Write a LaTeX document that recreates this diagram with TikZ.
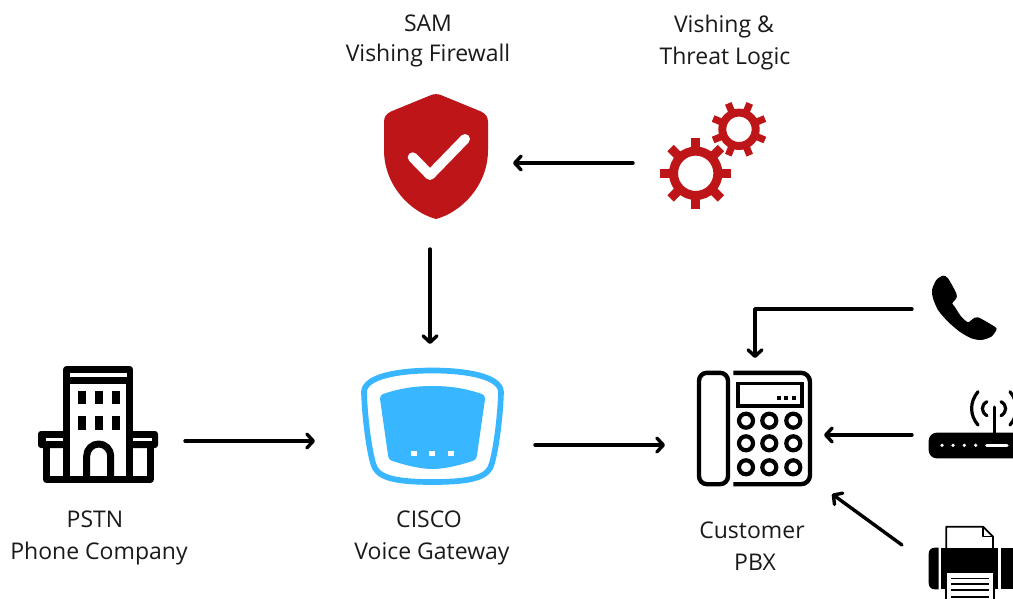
\documentclass[tikz,border=0pt]{standalone}
\usepackage{fontspec}
\setmainfont{Open Sans}
\usetikzlibrary{arrows.meta}
\definecolor{samred}{HTML}{BD1518}
\definecolor{ciscoblue}{HTML}{38B6FF}
\definecolor{labelgrey}{HTML}{1A1A1A}
\tikzset{
  flow/.style={draw=black,line width=3.4pt,line cap=round,line join=round,-{Straight Barb[length=6.5pt,width=14pt,line width=3.4pt,round]}},
  port/.style={inner sep=0pt,minimum size=0pt,outer sep=0pt},
  caption/.style={inner sep=0pt,text=labelgrey,font=\fontsize{23}{28}\selectfont,anchor=center},
  blk/.style={line width=7pt,line join=round,draw=black},
  tel/.style={line width=4.4pt,line join=round,draw=black},
  wave/.style={line width=3.2pt,line cap=round},
}
\begin{document}
\begin{tikzpicture}[x=1pt,y=-1pt]
\useasboundingbox (0,0) rectangle (1013,599);
\clip (0,0) rectangle (1013,599);
\fill[white] (0,0) rectangle (1013,599);

% captions
\node[caption] (capSamA) at (428,23) {SAM};
\node[caption] (capSamB) at (428,56) {Vishing Firewall};
\node[caption] (capLogicA) at (724,27) {Vishing \&};
\node[caption] (capLogicB) at (725,59) {Threat Logic};
\node[caption] (capPstnA) at (95,519) {PSTN};
\node[caption] (capPstnB) at (99,554) {Phone Company};
\node[caption] (capCiscoA) at (429,519) {CISCO};
\node[caption] (capCiscoB) at (432,554) {Voice Gateway};
\node[caption] (capPbxA) at (752,530) {Customer};
\node[caption] (capPbxB) at (755,562) {PBX};

% shield
\fill[samred] (430,95.5) .. controls (434,93.7) and (438,93.7) .. (442,95.5) -- (481,111.5) .. controls (486,114) and (488,117) .. (488,122) -- (488,150) .. controls (488,185) and (462,212) .. (436,219) .. controls (410,212) and (384,185) .. (384,150) -- (384,122) .. controls (384,117) and (386,114) .. (391,111.5) -- cycle;
\draw[white,line width=10pt,line cap=round,line join=round] (412.7,157.3) -- (430,175) -- (465,139);

% gears
\draw[samred,line width=9pt] (695.7,173.3) circle (22.2);
\foreach \a in {0,45,...,315}
  \draw[samred,line width=9pt] (695.7,173.3) ++(\a:25) -- ++(\a:10.6);
\draw[samred,line width=8pt] (739,129.3) circle (16.7);
\foreach \a in {22.5,67.5,...,360}
  \draw[samred,line width=7pt] (739,129.3) ++(\a:19) -- ++(\a:9);

% building
\draw[blk] (66.8,476) -- (66.8,369.5) -- (129.8,369.5) -- (129.8,476);
\fill (64,377) rectangle (133,384);
\fill[white] (70.7,373) rectangle (126.7,377);
\fill[rounded corners=3pt] (38,431) rectangle (66,448);
\fill[rounded corners=3pt] (130,431) rectangle (158,448);
\fill[white] (46,438) rectangle (63.3,441);
\fill[white] (133.3,438) rectangle (152,441);
\draw[blk] (46.5,445) -- (46.5,479.5) -- (150,479.5) -- (150,445);
\foreach \wx in {78.3,95,112.3} {
  \fill (\wx,391) rectangle ++(7.7,13.3);
  \fill (\wx,416) rectangle ++(7.7,14);
}
\draw[blk] (86.7,479) -- (86.7,456) arc[start angle=180,end angle=360,radius=12] -- (110.7,479);

% gateway
\draw[ciscoblue,line width=5.7pt,line join=round] (432.5,370.5) .. controls (400,370.5) and (364.5,376) .. (364,392) .. controls (364.5,412) and (368,445) .. (373,463) .. controls (376,477) and (392,482) .. (432.5,482) .. controls (473,482) and (489,477) .. (492,463) .. controls (497,445) and (500.5,412) .. (501,392) .. controls (500.5,376) and (465,370.5) .. (432.5,370.5) -- cycle;
\fill[ciscoblue] (432.5,386) .. controls (410,386) and (395,390) .. (383,394) .. controls (381,395) and (380,396) .. (380,399) -- (388,455) .. controls (388.5,459) and (390,460.5) .. (394,461.5) .. controls (405,465) and (420,469) .. (432.5,469) .. controls (445,469) and (460,465) .. (471,461.5) .. controls (475,460.5) and (476.5,459) .. (477,455) -- (485,399) .. controls (485,396) and (484,395) .. (482,394) .. controls (470,390) and (455,386) .. (432.5,386) -- cycle;
\foreach \dx in {410.7,429.3,447.7}
  \fill[white] (\dx,450.7) rectangle ++(6,5.4);

% desk phone
\draw[tel,rounded corners=8pt] (699,372.8) rectangle (728,484.2);
\draw[tel,rounded corners=9pt] (733.3,372.8) -- (810,372.8) -- (810,484.2) -- (733.3,484.2);
\draw[line width=3.8pt,draw=black] (738,383.5) rectangle (802,406);
\foreach \dx in {777,784.3,791.7}
  \fill (\dx,396) rectangle ++(4,4);
\foreach \bx in {746,769.3,793.3}
  \foreach \by in {420.7,443.3,467.3}
    \draw[line width=4.2pt,draw=black] (\bx,\by) circle (7);

% handset
\fill plot[smooth cycle,tension=0.45] coordinates {(932,290) (933,298.3) (938,310) (948,321.7) (959.7,331.7) (971.3,338.3) (981.3,340) (991.3,336.7) (996.3,330) (994.7,326.7) (978,317.3) (972.3,319.3) (968,322.3) (961.3,316.7) (954.7,306.7) (952.3,303.3) (956.3,298.3) (956.3,293.3) (948,278.3) (943,275.7) (936.3,280)};

% router
\fill[rounded corners=8pt] (928.7,432.7) rectangle (1030,458.3);
\draw[line width=3pt,line cap=round] (994,407) -- (994,433);
\draw[wave] (987,401.7) .. controls (980.8,405) and (980.8,412) .. (987,415.7);
\draw[wave] (1001,401.7) .. controls (1007.2,405) and (1007.2,412) .. (1001,415.7);
\draw[wave] (978,391.7) .. controls (969.5,402) and (969.5,415) .. (978,425);
\draw[wave] (1010,391.7) .. controls (1018.5,402) and (1018.5,415) .. (1010,425);
\foreach \dx in {942,953,964.3,975.7}
  \fill[white] (\dx,445.3) circle (1.8);
\draw[white,line width=3pt,line cap=round] (986.5,445.3) -- (1007,445.3);

% printer
\draw[line width=1.8pt,line join=round] (946.3,548) -- (946.3,526.7) -- (983,526.7) -- (993,536.7) -- (993,548);
\draw[line width=1.5pt,line join=round] (983,526.7) -- (983,536.7) -- (993,536.7);
\fill (938.7,547.7) -- (935,547.7) .. controls (931,547.7) and (928.7,550) .. (928.7,554) -- (928.7,583) .. controls (928.7,587) and (931,589.3) .. (935,589.3) -- (938.7,589.3) -- cycle;
\fill (941,547.7) rectangle (998.3,589.3);
\fill (1000.8,547.7) rectangle (1020,589.3);
\fill (945,573) rectangle (995,599);
\fill[white] (947.3,573.3) rectangle (993,599);
\foreach \ly in {578.3,584,590,596.7}
  \draw[line width=1.6pt] (951.3,\ly) -- (989,\ly);

% connector ends
\node[port] (gearsOut) at (633,163) {};
\node[port] (shieldIn) at (513,163) {};
\node[port] (shieldOut) at (430,249) {};
\node[port] (gatewayTop) at (430,344) {};
\node[port] (pstnOut) at (185,441) {};
\node[port] (gatewayIn) at (315,441) {};
\node[port] (gatewayOut) at (535,445) {};
\node[port] (pbxWest) at (665,445) {};
\node[port] (phoneOut) at (912,309) {};
\node[port] (pbxTop) at (755,358) {};
\node[port] (routerOut) at (912,435) {};
\node[port] (pbxEast) at (824,435) {};
\node[port] (printerOut) at (902,545) {};
\node[port] (pbxSouth) at (832,494) {};

\draw[flow] (gearsOut) -- (shieldIn);
\draw[flow] (shieldOut) -- (gatewayTop);
\draw[flow] (pstnOut) -- (gatewayIn);
\draw[flow] (gatewayOut) -- (pbxWest);
\draw[flow] (phoneOut) -| (pbxTop);
\draw[flow] (routerOut) -- (pbxEast);
\draw[flow] (printerOut) -- (pbxSouth);
\end{tikzpicture}
\end{document}
